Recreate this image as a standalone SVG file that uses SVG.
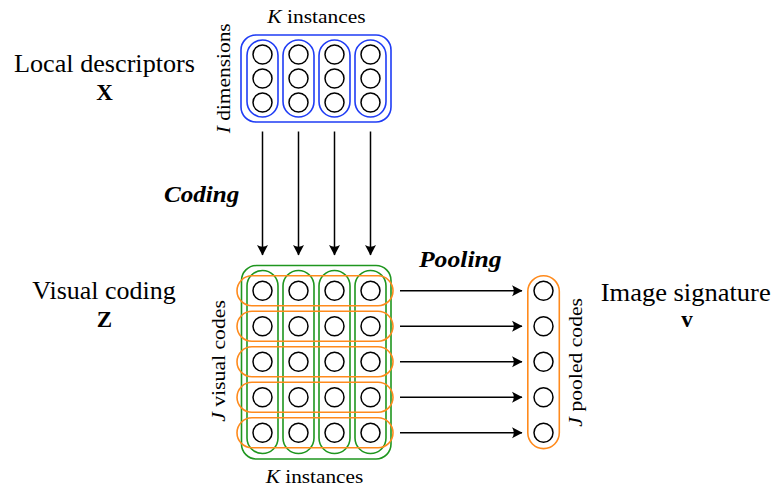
<svg xmlns="http://www.w3.org/2000/svg" width="773" height="490" viewBox="0 0 773 490">
  <style>
    text { font-family: "Liberation Serif", "Times New Roman", serif; fill: #000; }
    .lbl { font-size: 24.5px; }
    .sym { font-size: 23px; font-weight: bold; }
    .op { font-size: 23px; font-weight: bold; font-style: italic; }
    .ax { font-size: 18px; }
    .it { font-style: italic; }
    .unit { fill: #fff; stroke: #000; stroke-width: 1.5; }
    .blue { fill: none; stroke: #1f3cf5; stroke-width: 1.6; }
    .green { fill: none; stroke: #1f961f; stroke-width: 1.6; }
    .orange { fill: none; stroke: #ff8a1c; stroke-width: 1.6; }
    .edge { stroke: #000; stroke-width: 1.5; fill: none; marker-end: url(#arr); }
  </style>
  <defs>
    <marker id="arr" viewBox="-11 -6 12 12" markerWidth="12" markerHeight="12" refX="0" refY="0" orient="auto" markerUnits="userSpaceOnUse">
      <path d="M0.5,0 L-10,-5.5 Q-6.5,0 -10,5.5 Z" fill="#000"/>
    </marker>
    <circle id="u" r="9.5" class="unit"/>
  </defs>

  <rect width="773" height="490" fill="#fff"/>

  <!-- Local descriptors X : I x K -->
  <g id="descriptors">
    <rect class="blue" x="241" y="35" width="150" height="87" rx="15"/>
    <rect class="blue" x="247" y="40" width="31" height="77" rx="15.5"/>
    <rect class="blue" x="283" y="40" width="31" height="77" rx="15.5"/>
    <rect class="blue" x="319" y="40" width="31" height="77" rx="15.5"/>
    <rect class="blue" x="355" y="40" width="31" height="77" rx="15.5"/>
    <use href="#u" x="262.5" y="54.5"/><use href="#u" x="262.5" y="78.5"/><use href="#u" x="262.5" y="102.5"/>
    <use href="#u" x="298.5" y="54.5"/><use href="#u" x="298.5" y="78.5"/><use href="#u" x="298.5" y="102.5"/>
    <use href="#u" x="334.5" y="54.5"/><use href="#u" x="334.5" y="78.5"/><use href="#u" x="334.5" y="102.5"/>
    <use href="#u" x="370.5" y="54.5"/><use href="#u" x="370.5" y="78.5"/><use href="#u" x="370.5" y="102.5"/>
  </g>

  <!-- Visual coding Z : J x K -->
  <g id="coding">
    <rect class="green" x="241.5" y="265.5" width="149.5" height="193.5" rx="15"/>
    <rect class="green" x="247" y="270.5" width="31" height="183" rx="15.5"/>
    <rect class="green" x="283" y="270.5" width="31" height="183" rx="15.5"/>
    <rect class="green" x="319" y="270.5" width="31" height="183" rx="15.5"/>
    <rect class="green" x="355" y="270.5" width="31" height="183" rx="15.5"/>
    <rect class="orange" x="237" y="275.8" width="156" height="30" rx="15"/>
    <rect class="orange" x="237" y="311.3" width="156" height="30" rx="15"/>
    <rect class="orange" x="237" y="346.8" width="156" height="30" rx="15"/>
    <rect class="orange" x="237" y="382.3" width="156" height="30" rx="15"/>
    <rect class="orange" x="237" y="417.8" width="156" height="30" rx="15"/>
    <use href="#u" x="262.5" y="290.8"/><use href="#u" x="298.5" y="290.8"/><use href="#u" x="334.5" y="290.8"/><use href="#u" x="370.5" y="290.8"/>
    <use href="#u" x="262.5" y="326.3"/><use href="#u" x="298.5" y="326.3"/><use href="#u" x="334.5" y="326.3"/><use href="#u" x="370.5" y="326.3"/>
    <use href="#u" x="262.5" y="361.8"/><use href="#u" x="298.5" y="361.8"/><use href="#u" x="334.5" y="361.8"/><use href="#u" x="370.5" y="361.8"/>
    <use href="#u" x="262.5" y="397.3"/><use href="#u" x="298.5" y="397.3"/><use href="#u" x="334.5" y="397.3"/><use href="#u" x="370.5" y="397.3"/>
    <use href="#u" x="262.5" y="432.8"/><use href="#u" x="298.5" y="432.8"/><use href="#u" x="334.5" y="432.8"/><use href="#u" x="370.5" y="432.8"/>
  </g>

  <!-- Image signature v : J pooled codes -->
  <g id="signature">
    <rect class="orange" x="527.8" y="275.8" width="31.5" height="172.8" rx="15.75"/>
    <use href="#u" x="543.5" y="290.8"/>
    <use href="#u" x="543.5" y="326.3"/>
    <use href="#u" x="543.5" y="361.8"/>
    <use href="#u" x="543.5" y="397.3"/>
    <use href="#u" x="543.5" y="432.8"/>
  </g>

  <g id="connectors">
    <line class="edge" x1="262.5" y1="131.5" x2="262.5" y2="255"/>
    <line class="edge" x1="298.5" y1="131.5" x2="298.5" y2="255"/>
    <line class="edge" x1="334.5" y1="131.5" x2="334.5" y2="255"/>
    <line class="edge" x1="370.5" y1="131.5" x2="370.5" y2="255"/>
    <line class="edge" x1="400" y1="290.8" x2="522" y2="290.8"/>
    <line class="edge" x1="400" y1="326.3" x2="522" y2="326.3"/>
    <line class="edge" x1="400" y1="361.8" x2="522" y2="361.8"/>
    <line class="edge" x1="400" y1="397.3" x2="522" y2="397.3"/>
    <line class="edge" x1="400" y1="432.8" x2="522" y2="432.8"/>
  </g>

  <g id="labels">
    <text class="lbl" x="104.5" y="72.3" text-anchor="middle" textLength="181" lengthAdjust="spacingAndGlyphs">Local descriptors</text>
    <text class="sym" x="104.5" y="100" text-anchor="middle">X</text>
    <text class="lbl" x="104" y="299.3" text-anchor="middle" textLength="143.4" lengthAdjust="spacingAndGlyphs">Visual coding</text>
    <text class="sym" x="104.3" y="326.7" text-anchor="middle">Z</text>
    <text class="lbl" x="685.7" y="300.7" text-anchor="middle" textLength="170" lengthAdjust="spacingAndGlyphs">Image signature</text>
    <text class="sym" x="687" y="326.7" text-anchor="middle">v</text>
    <text class="op" x="201.7" y="201.7" text-anchor="middle" textLength="75.3" lengthAdjust="spacingAndGlyphs">Coding</text>
    <text class="op" x="460.3" y="266.7" text-anchor="middle" textLength="82.7" lengthAdjust="spacingAndGlyphs">Pooling</text>
    <text class="ax" x="316.5" y="22.7" text-anchor="middle" textLength="98.4" lengthAdjust="spacingAndGlyphs"><tspan class="it">K</tspan> instances</text>
    <text class="ax" x="314.5" y="483.3" text-anchor="middle" textLength="97.6" lengthAdjust="spacingAndGlyphs"><tspan class="it">K</tspan> instances</text>
    <text class="ax" transform="translate(230,78.3) rotate(-90)" text-anchor="middle" textLength="110" lengthAdjust="spacingAndGlyphs"><tspan class="it">I</tspan> dimensions</text>
    <text class="ax" transform="translate(224.5,361) rotate(-90)" text-anchor="middle" textLength="121.7" lengthAdjust="spacingAndGlyphs"><tspan class="it">J</tspan> visual codes</text>
    <text class="ax" transform="translate(582,362.3) rotate(-90)" text-anchor="middle" textLength="128.7" lengthAdjust="spacingAndGlyphs"><tspan class="it">J</tspan> pooled codes</text>
  </g>
</svg>
